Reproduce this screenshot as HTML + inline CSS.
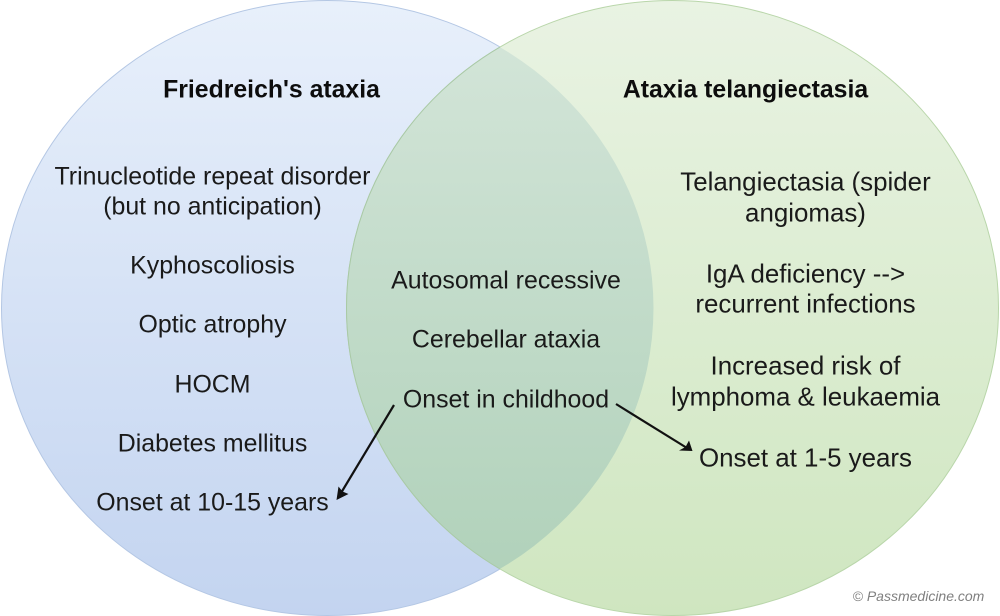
<!DOCTYPE html>
<html><head><meta charset="utf-8"><style>
html,body{margin:0;padding:0;background:#fff;width:1000px;height:616px;overflow:hidden}
svg{display:block}
text{font-family:"Liberation Sans",sans-serif;font-size:24.9px;fill:#1a1a1a;text-anchor:middle}
.r{font-size:25.9px}
.h{font-weight:bold;font-size:24.8px;fill:#0d0d0d}
</style></head><body>
<svg width="1000" height="616" viewBox="0 0 1000 616" xmlns="http://www.w3.org/2000/svg">
<defs>
<linearGradient id="b" x1="0" y1="0" x2="0" y2="1"><stop offset="0" stop-color="#e8f0fb"/><stop offset="1" stop-color="#c3d4f0"/></linearGradient>
<linearGradient id="g" x1="0" y1="0" x2="0" y2="1"><stop offset="0" stop-color="#e9f3e3"/><stop offset="1" stop-color="#cfe6c0"/></linearGradient>
<linearGradient id="o" x1="0" y1="0" x2="0" y2="1"><stop offset="0" stop-color="#d5e6da"/><stop offset="1" stop-color="#aed0b8"/></linearGradient>
<clipPath id="c"><ellipse cx="327.5" cy="308" rx="326" ry="307.5"/></clipPath>
</defs>
<ellipse cx="327.5" cy="308" rx="326" ry="307.5" fill="url(#b)" stroke="#b4c7e4" stroke-width="1"/>
<ellipse cx="672.5" cy="308" rx="326" ry="307.5" fill="url(#g)" stroke="#b9d6aa" stroke-width="1"/>
<ellipse cx="672.5" cy="308" rx="326" ry="307.5" fill="url(#o)" stroke="#a9c9a6" stroke-width="1" clip-path="url(#c)"/>
<text x="271.500" y="97.500" class="h">Friedreich's ataxia</text>
<text x="745.500" y="97.500" class="h">Ataxia telangiectasia</text>
<text x="212.500" y="184.500">Trinucleotide repeat disorder</text>
<text x="212.500" y="214.500">(but no anticipation)</text>
<text x="212.500" y="273.500">Kyphoscoliosis</text>
<text x="212.500" y="332.500">Optic atrophy</text>
<text x="212.500" y="392.500">HOCM</text>
<text x="212.500" y="451.500">Diabetes mellitus</text>
<text x="212.500" y="510.500">Onset at 10-15 years</text>
<text x="506" y="288.500">Autosomal recessive</text>
<text x="506" y="347.500">Cerebellar ataxia</text>
<text x="506" y="407.500">Onset in childhood</text>
<text x="805.500" y="190.500" class="r">Telangiectasia (spider</text>
<text x="805.500" y="221.500" class="r">angiomas)</text>
<text x="805.500" y="282.500" class="r">IgA deficiency --&gt;</text>
<text x="805.500" y="312.500" class="r">recurrent infections</text>
<text x="805.500" y="374.500" class="r">Increased risk of</text>
<text x="805.500" y="405.500" class="r">lymphoma &amp; leukaemia</text>
<text x="805.500" y="466.500" class="r">Onset at 1-5 years</text>
<g stroke="#111" stroke-width="2.2" fill="none">
<path d="M394 405 L341 493"/>
<path d="M616 404 L687 448"/>
</g>
<polygon points="336.500,500 338.500,486.500 342.500,491.500 348.500,494" fill="#111"/>
<polygon points="692.500,451 679,450.500 685.500,447 689,440.500" fill="#111"/>
<text x="918.500" y="601" style="font-size:14px;font-style:italic;fill:#808080">© Passmedicine.com</text>
</svg>
</body></html>
